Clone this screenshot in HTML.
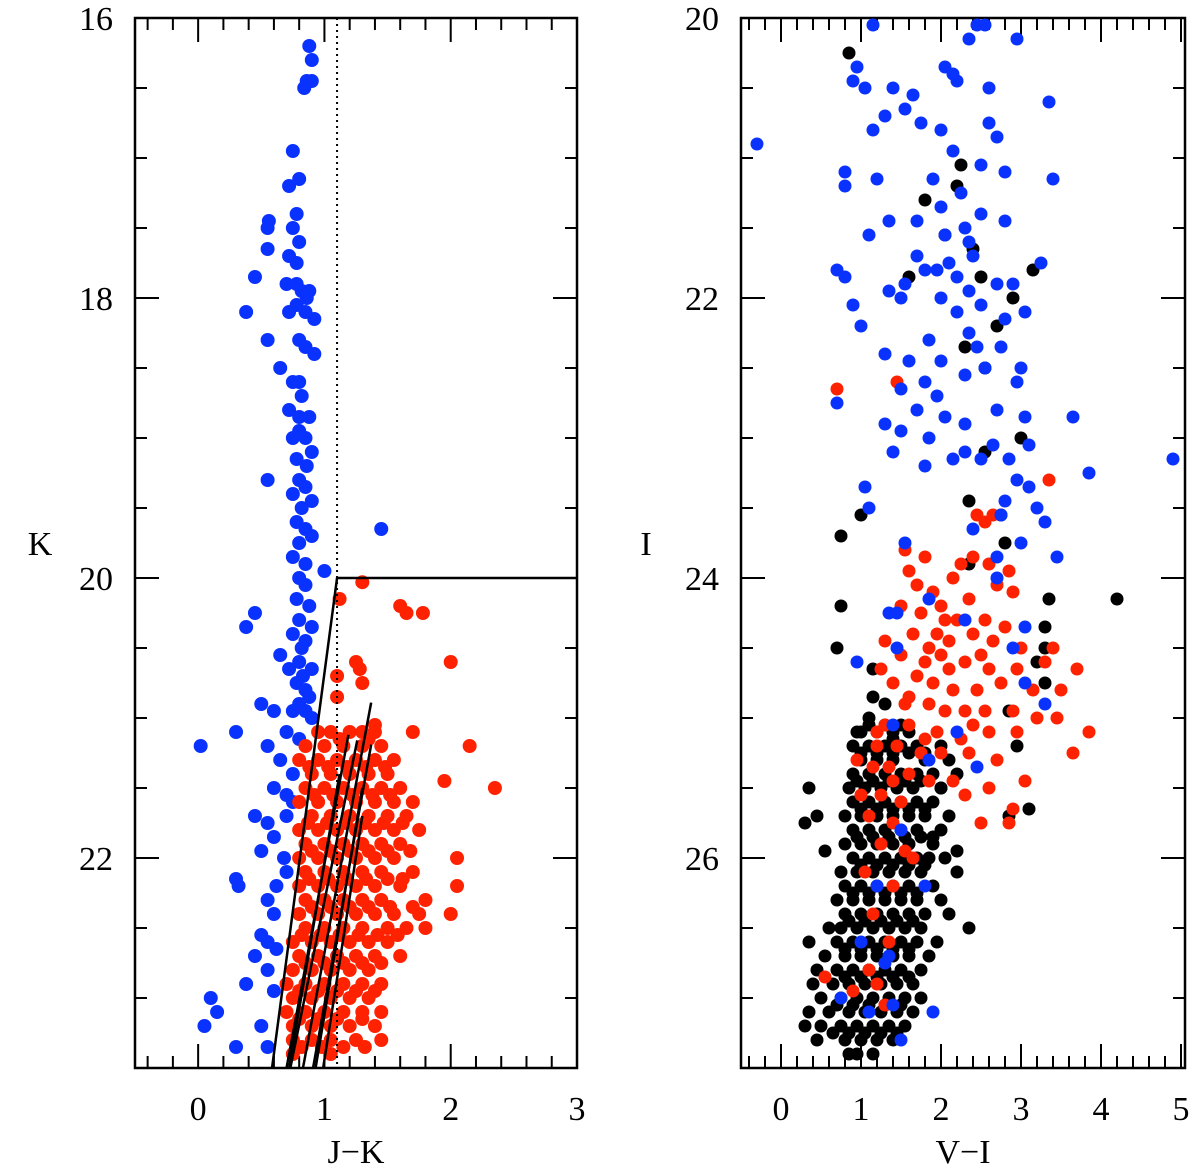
<!DOCTYPE html>
<html><head><meta charset="utf-8">
<style>
html,body{margin:0;padding:0;background:#fff;}
svg text{font-family:"Liberation Serif",serif;fill:#000;}
</style></head>
<body>
<svg id="fig" width="1200" height="1170" viewBox="0 0 1200 1170" xmlns="http://www.w3.org/2000/svg">
<g id="left"></g>
<g id="right"></g>
</svg>
<script>
// ---------- LEFT PANEL DATA (J-K, K) ----------
const leftXTicks = [0, 1, 2, 3];
const leftYTicks = [16, 18, 20, 22];
const leftBlue = [[0.88,16.2],[0.9,16.3],[0.86,16.45],[0.84,16.5],[0.9,16.45],[0.75,16.95],[0.72,17.2],[0.8,17.15],[0.78,17.4],[0.55,17.5],[0.56,17.45],[0.75,17.5],[0.8,17.6],[0.55,17.65],[0.72,17.7],[0.78,17.75],[0.45,17.85],[0.7,17.9],[0.78,17.9],[0.82,17.95],[0.86,18.0],[0.88,17.95],[0.78,18.05],[0.38,18.1],[0.72,18.1],[0.85,18.1],[0.92,18.15],[0.55,18.3],[0.8,18.3],[0.85,18.35],[0.92,18.4],[0.65,18.5],[0.75,18.6],[0.8,18.6],[0.82,18.7],[0.72,18.8],[0.8,18.85],[0.88,18.85],[0.75,19.0],[0.85,19.0],[0.9,19.1],[0.78,19.15],[0.55,19.3],[0.8,19.3],[0.85,19.35],[0.75,19.4],[0.9,19.45],[0.82,19.5],[0.78,19.6],[0.85,19.65],[0.9,19.7],[1.45,19.65],[0.8,19.75],[0.75,19.85],[0.85,19.9],[1.0,19.95],[0.8,20.0],[0.85,20.05],[0.78,20.15],[0.88,20.2],[0.45,20.25],[0.38,20.35],[0.8,20.3],[0.75,20.4],[0.85,20.45],[0.65,20.55],[0.8,20.6],[0.9,20.65],[0.78,20.75],[0.85,20.8],[0.88,20.85],[0.8,20.9],[0.75,20.95],[0.6,20.95],[0.5,20.9],[0.85,20.95],[0.9,21.0],[0.3,21.1],[0.02,21.2],[0.7,21.1],[0.8,21.15],[0.55,21.2],[0.65,21.3],[0.75,21.4],[0.6,21.5],[0.7,21.55],[0.75,21.6],[0.45,21.7],[0.55,21.75],[0.6,21.85],[0.5,21.95],[0.68,22.0],[0.7,22.1],[0.3,22.15],[0.32,22.2],[0.55,22.3],[0.6,22.4],[0.5,22.55],[0.55,22.6],[0.62,22.65],[0.45,22.7],[0.55,22.8],[0.38,22.9],[0.6,22.95],[0.1,23.0],[0.15,23.1],[0.05,23.2],[0.5,23.2],[0.3,23.35],[0.55,23.35],[0.82,20.5],[0.9,20.35],[0.72,20.65],[0.86,19.2],[0.8,18.95],[0.83,20.7],[0.7,21.7],[0.62,22.2]];
const leftRedScatter = [[1.3,20.03],[1.12,20.15],[1.6,20.2],[1.65,20.25],[1.78,20.25],[1.25,20.6],[1.28,20.65],[1.1,20.7],[1.3,20.75],[2.0,20.6],[1.1,20.85],[1.4,21.05],[1.7,21.1],[2.15,21.2],[2.35,21.5],[1.95,21.45]];
const leftRedRowsK = [21.1,21.2,21.3,21.4,21.5,21.6,21.7,21.8,21.9,22.0,22.1,22.2,22.3,22.4,22.5,22.6,22.7,22.8,22.9,23.0,23.1,23.2,23.3,23.4];
const leftRedRowsX = [[0.95,1.05,1.2,1.3,1.4],[0.85,1.0,1.15,1.3,1.45],[0.8,0.95,1.1,1.25,1.4,1.55],[0.9,1.05,1.2,1.35,1.5],[0.85,1.0,1.15,1.3,1.45,1.6],[0.8,0.95,1.1,1.25,1.4,1.55,1.7],[0.9,1.05,1.2,1.35,1.5,1.65],[0.8,0.95,1.1,1.25,1.4,1.55,1.75],[0.85,1.0,1.15,1.3,1.45,1.6],[0.8,0.95,1.1,1.25,1.4,1.55,2.05],[0.85,1.0,1.15,1.3,1.45,1.7],[0.8,0.95,1.1,1.25,1.4,1.6,2.05],[0.85,1.0,1.15,1.3,1.45,1.8],[0.8,0.95,1.1,1.25,1.4,1.55,1.75,2.0],[0.85,1.0,1.15,1.3,1.5,1.65,1.8],[0.75,0.9,1.05,1.2,1.35,1.5],[0.8,0.95,1.1,1.25,1.4,1.6],[0.75,0.9,1.05,1.2,1.35],[0.7,0.85,1.0,1.15,1.3,1.45],[0.75,0.9,1.05,1.2,1.35],[0.7,0.85,1.0,1.15,1.3,1.45],[0.75,0.9,1.05,1.2,1.4],[0.75,0.9,1.05,1.25,1.45],[0.75,1.05]];
const leftRedRowsK2 = [21.15,21.35,21.55,21.75,21.95,22.15,22.35,22.55,22.75,22.95,23.15,23.35];
const leftRedRowsX2 = [[1.12,1.35],[0.88,1.03,1.18,1.33,1.48],[0.92,1.07,1.22,1.38,1.52],[0.87,1.02,1.17,1.32,1.47,1.62],[0.9,1.05,1.2,1.35,1.5,1.68],[0.88,1.03,1.18,1.33,1.5,1.62],[0.9,1.05,1.2,1.35,1.52,1.7],[0.82,0.97,1.12,1.27,1.42,1.58],[0.85,1.0,1.15,1.3,1.45],[0.8,0.95,1.1,1.25,1.4],[0.8,0.95,1.1,1.3],[0.82,0.98,1.15,1.32]];
const boundary = [[0.585,23.5],[1.1,20.0],[3.0,20.0]];
const isoStart = [[0.70,23.5],[0.73,23.5],[0.72,23.5],[0.83,23.5],[0.91,23.5],[0.93,23.5],[0.99,23.5]];
const isoEnd = [[1.19,21.12],[1.26,21.16],[1.12,21.4],[1.37,20.89],[1.37,21.19],[1.3,21.5],[1.3,21.7]];
const dottedX = 1.1;

// ---------- RIGHT PANEL DATA (V-I, I) ----------
const rightXTicks = [0, 1, 2, 3, 4, 5];
const rightYTicks = [20, 22, 24, 26];
const rightBlue = [[2.45,20.05],[2.55,20.05],[1.15,20.05],[2.35,20.15],[2.95,20.15],[0.9,20.45],[1.05,20.5],[1.4,20.5],[1.65,20.55],[2.05,20.35],[2.15,20.4],[2.2,20.45],[2.6,20.5],[3.35,20.6],[0.95,20.35],[1.3,20.7],[1.55,20.65],[1.75,20.75],[2.0,20.8],[2.6,20.75],[2.7,20.85],[1.15,20.8],[-0.3,20.9],[2.15,20.95],[2.5,21.05],[2.8,21.1],[0.8,21.1],[0.8,21.2],[1.2,21.15],[1.9,21.15],[2.25,21.25],[3.4,21.15],[2.0,21.35],[1.7,21.45],[2.5,21.4],[2.8,21.45],[1.35,21.45],[1.1,21.55],[2.05,21.55],[2.3,21.5],[2.35,21.6],[2.4,21.7],[1.7,21.7],[2.1,21.75],[1.8,21.8],[2.2,21.85],[1.95,21.8],[0.7,21.8],[0.8,21.85],[1.35,21.95],[1.55,21.9],[2.35,21.95],[2.7,21.9],[2.9,21.9],[3.25,21.75],[0.9,22.05],[1.0,22.2],[1.5,22.0],[2.0,22.0],[2.2,22.1],[2.5,22.05],[2.8,22.15],[3.05,22.1],[2.35,22.25],[1.85,22.3],[2.45,22.35],[2.75,22.35],[1.3,22.4],[1.6,22.45],[2.0,22.45],[2.55,22.5],[3.0,22.5],[2.3,22.55],[1.8,22.6],[2.95,22.6],[1.5,22.65],[0.7,22.75],[1.95,22.7],[2.7,22.8],[1.3,22.9],[1.5,22.95],[1.7,22.8],[2.05,22.85],[2.3,22.9],[3.05,22.85],[3.65,22.85],[1.85,23.0],[2.3,23.1],[2.65,23.05],[2.85,23.15],[3.1,23.05],[3.85,23.25],[4.9,23.15],[1.4,23.1],[2.15,23.15],[2.5,23.15],[1.8,23.2],[2.95,23.3],[3.1,23.35],[1.05,23.35],[2.8,23.45],[3.2,23.5],[1.1,23.5],[2.75,23.55],[3.3,23.6],[2.4,23.65],[1.55,23.75],[3.0,23.75],[3.45,23.85],[2.7,23.85],[1.85,24.15],[2.7,24.0],[1.35,24.25],[1.45,24.25],[2.3,24.3],[3.05,24.35],[0.95,24.6],[1.45,24.5],[2.9,24.5],[3.3,24.9],[1.4,25.05],[2.2,25.1],[3.05,24.75],[2.45,25.35],[1.85,25.3]];
const rightRed = [[0.7,22.65],[1.45,22.6],[3.35,23.3],[2.45,23.55],[2.55,23.6],[2.65,23.55],[1.55,23.8],[1.6,23.95],[1.8,23.85],[2.25,23.9],[2.4,23.85],[2.6,23.9],[2.85,23.95],[1.7,24.05],[1.9,24.1],[2.15,24.0],[2.0,24.2],[2.35,24.15],[2.7,24.05],[2.9,24.1],[1.5,24.2],[1.75,24.25],[2.2,24.3],[2.55,24.3],[2.8,24.35],[1.3,24.45],[1.65,24.4],[1.95,24.4],[2.1,24.45],[2.4,24.4],[2.65,24.45],[3.0,24.5],[3.4,24.5],[1.5,24.55],[1.8,24.6],[2.0,24.55],[2.3,24.6],[2.6,24.65],[2.95,24.65],[3.3,24.6],[3.7,24.65],[1.25,24.65],[1.4,24.75],[1.7,24.7],[1.9,24.75],[2.15,24.8],[2.45,24.8],[2.75,24.75],[3.15,24.8],[3.5,24.8],[1.55,24.9],[1.85,24.9],[2.05,24.95],[2.3,24.95],[2.55,24.95],[2.9,24.95],[3.2,25.0],[3.45,25.0],[3.85,25.1],[1.3,25.05],[1.6,25.05],[1.95,25.1],[2.25,25.15],[2.6,25.1],[2.95,25.1],[1.2,25.2],[1.45,25.2],[1.75,25.25],[2.0,25.25],[2.35,25.25],[2.7,25.3],[3.65,25.25],[0.95,25.3],[1.15,25.35],[1.35,25.35],[1.6,25.4],[1.85,25.45],[2.15,25.45],[1.0,25.55],[1.25,25.55],[1.5,25.6],[2.3,25.55],[2.6,25.5],[3.05,25.45],[1.1,25.7],[1.4,25.75],[2.9,25.65],[2.5,25.75],[2.85,25.75],[1.25,25.9],[1.55,25.95],[1.05,26.1],[1.4,26.2],[1.65,26.0],[1.15,26.4],[1.35,26.6],[1.1,26.8],[0.55,26.85],[0.9,26.95],[1.3,27.05],[1.2,26.9],[1.85,24.5],[2.1,24.65],[1.6,24.85],[2.4,25.05],[1.8,25.15],[2.05,24.3],[2.5,24.55],[1.4,25.45],[1.2,25.1]];
const blackScatter = [[0.85,20.25],[2.25,21.05],[2.2,21.2],[1.8,21.3],[2.05,21.55],[2.4,21.65],[1.6,21.85],[2.5,21.85],[2.9,22.0],[3.15,21.8],[2.7,22.2],[2.3,22.35],[2.55,22.5],[3.0,23.0],[2.55,23.1],[2.35,23.45],[1.0,23.55],[0.75,23.7],[2.75,23.55],[2.8,23.75],[2.35,23.9],[3.35,24.15],[4.2,24.15],[0.75,24.2],[3.3,24.35],[3.3,24.5],[0.7,24.5],[3.2,24.6],[1.15,24.65],[3.3,24.75],[2.85,24.95],[1.15,24.85],[1.3,24.9],[1.1,25.0],[0.95,25.1],[2.95,25.2],[3.1,25.65],[2.85,25.7],[1.4,25.15],[2.0,25.5],[2.2,25.95],[1.9,25.85],[2.35,26.5],[0.3,25.75],[0.55,25.95],[0.35,26.6]];
const blackRowsI = [25.1,25.2,25.3,25.4,25.5,25.6,25.7,25.8,25.9,26.0,26.1,26.2,26.3,26.4,26.5,26.6,26.7,26.8,26.9,27.0,27.1,27.2,27.3,27.4];
const blackRowsX = [[1.0,1.2,1.4,1.6],[0.9,1.1,1.3,1.5,1.7,2.0],[1.0,1.2,1.4,1.8,2.1],[0.9,1.1,1.3,1.5,1.7,1.9,2.2],[0.35,0.85,1.05,1.25,1.45,1.65,2.0],[0.9,1.1,1.3,1.5,1.7,1.9],[0.45,0.8,1.0,1.2,1.4,1.6,1.8,2.1],[0.9,1.1,1.3,1.5,1.7,2.0],[0.8,1.0,1.2,1.4,1.6,1.9],[0.9,1.1,1.3,1.5,1.7,1.85,2.05],[0.75,0.95,1.15,1.35,1.55,1.75,2.2],[0.8,1.0,1.2,1.4,1.6,1.9],[0.7,0.9,1.1,1.3,1.5,1.7,2.0],[0.8,1.0,1.2,1.4,1.6,1.8,2.1],[0.6,0.75,0.95,1.15,1.35,1.55,1.75],[0.7,0.9,1.1,1.3,1.5,1.7,1.95],[0.55,0.8,1.0,1.2,1.4,1.6,1.85],[0.45,0.7,0.9,1.1,1.3,1.5,1.75],[0.4,0.65,0.85,1.05,1.25,1.45,1.65],[0.5,0.75,0.95,1.15,1.35,1.55,1.75],[0.35,0.6,0.85,1.05,1.25,1.45,1.65],[0.3,0.5,0.75,0.95,1.15,1.35,1.55],[0.45,0.8,1.0,1.2,1.4],[0.85,0.95,1.15]];
const blackRowsI2 = [25.05,25.25,25.45,25.65,25.85,26.05,26.25,26.45,26.65,26.85,27.05,27.25];
const blackRowsX2 = [[1.1,1.3,1.5],[1.0,1.2,1.4,1.6,1.8],[0.95,1.15,1.35,1.55,1.75],[1.0,1.2,1.4,1.6,1.8],[0.95,1.15,1.35,1.55,1.75],[1.0,1.2,1.4,1.6,1.8],[0.9,1.1,1.3,1.5,1.7],[0.85,1.05,1.25,1.45,1.65],[0.8,1.0,1.2,1.4,1.6],[0.8,1.0,1.2,1.4,1.6],[0.7,0.9,1.1,1.3,1.5],[0.65,0.85,1.05,1.25,1.45]];
const rightBlueLow = [[1.5,25.8],[1.2,26.2],[1.8,26.2],[1.0,26.6],[1.9,27.1],[0.75,27.0],[1.1,27.1],[1.4,27.05],[1.5,27.3],[1.35,26.7],[1.3,26.75]];

const NS = "http://www.w3.org/2000/svg";
const BLUE = "#0a32ff", RED = "#ff2200", BLACK = "#000";
function mk(tag, attrs, parent){ const e=document.createElementNS(NS,tag); for(const k in attrs) e.setAttribute(k,attrs[k]); parent.appendChild(e); return e; }

function panel(g, cfg){
  const {x0,x1,y0,y1,xmin,xmax,ymin,ymax} = cfg;
  const sx = v => x0 + (v - xmin) / (xmax - xmin) * (x1 - x0);
  const sy = v => y0 + (v - ymin) / (ymax - ymin) * (y1 - y0);
  cfg.sx = sx; cfg.sy = sy;
  const frame = mk("rect",{x:x0,y:y0,width:x1-x0,height:y1-y0,fill:"none",stroke:"#000","stroke-width":2.5},g);
  
  
  for(let i=Math.ceil(xmin*5); i<=Math.floor(xmax*5); i++){
    const v=i/5, major = (i%5===0), L = major?24:12, X=sx(v);
    const t1 = mk("line",{x1:X,y1:y1,x2:X,y2:y1-L,stroke:"#000","stroke-width":2},g);
    
    
    const t2 = mk("line",{x1:X,y1:y0,x2:X,y2:y0+L,stroke:"#000","stroke-width":2},g);
    
    
  }
  for(let i=Math.ceil(ymin*2); i<=Math.floor(ymax*2); i++){
    const v=i/2, major=(i%4===0), L=major?24:12, Y=sy(v);
    const t1 = mk("line",{x1:x0,y1:Y,x2:x0+L,y2:Y,stroke:"#000","stroke-width":2},g);
    
    
    const t2 = mk("line",{x1:x1,y1:Y,x2:x1-L,y2:Y,stroke:"#000","stroke-width":2},g);
    
    
  }
  cfg.xticks.forEach(v=>{
    const t = mk("text",{x:sx(v),y:y1+52,"font-size":34,"text-anchor":"middle"},g);
    t.textContent = v;
    
    
  });
  cfg.yticks.forEach(v=>{
    const t = mk("text",{x:x0-22,y:sy(v)+12,"font-size":34,"text-anchor":"end"},g);
    t.textContent = v;
    
    
  });
  const xl = mk("text",{x:(x0+x1)/2,y:y1+95,"font-size":34,"text-anchor":"middle"},g);
  xl.textContent = cfg.xlabel;
  
  
  const yl = mk("text",{x:x0-95,y:(y0+y1)/2+12,"font-size":34,"text-anchor":"middle"},g);
  yl.textContent = cfg.ylabel;
  
  
}
function dots(g, cfg, pts, color, r, name){
  const grp = mk("g",{},g);
  
  
  pts.forEach(p=>{
    const c = mk("circle",{cx:cfg.sx(p[0]),cy:cfg.sy(p[1]),r:r,fill:color},grp);
    
    
  });
}
function rowsToPts(rowsY, rowsX){ const out=[]; rowsY.forEach((y,i)=>rowsX[i].forEach(x=>out.push([x,y]))); return out; }

// LEFT
const gL = document.getElementById("left");
const L = {x0:135,x1:577,y0:18,y1:1068,xmin:-0.5,xmax:3,ymin:16,ymax:23.5,xticks:leftXTicks,yticks:leftYTicks,xlabel:"J\u2212K",ylabel:"K"};
panel(gL, L);
dots(gL, L, leftBlue, BLUE, 7, "blue-star");
dots(gL, L, leftRedScatter.concat(rowsToPts(leftRedRowsK, leftRedRowsX), rowsToPts(leftRedRowsK2, leftRedRowsX2)), RED, 7, "red-star");
const dl = mk("line",{x1:L.sx(dottedX),y1:L.y0,x2:L.sx(dottedX),y2:L.y1,stroke:"#000","stroke-width":2,"stroke-dasharray":"2,4"},gL);


const bd = mk("polyline",{points:boundary.map(p=>L.sx(p[0])+","+L.sy(p[1])).join(" "),fill:"none",stroke:"#000","stroke-width":2.5},gL);


isoStart.forEach((s,i)=>{
  const e = isoEnd[i];
  const ln = mk("line",{x1:L.sx(s[0]),y1:L.sy(s[1]),x2:L.sx(e[0]),y2:L.sy(e[1]),stroke:"#000","stroke-width":2.5},gL);
  
  
});

// RIGHT
const gR = document.getElementById("right");
const R = {x0:741,x1:1185,y0:18,y1:1068,xmin:-0.5,xmax:5.05,ymin:20,ymax:27.5,xticks:rightXTicks,yticks:rightYTicks,xlabel:"V\u2212I",ylabel:"I"};
panel(gR, R);
dots(gR, R, blackScatter.concat(rowsToPts(blackRowsI, blackRowsX), rowsToPts(blackRowsI2, blackRowsX2)), BLACK, 6.5, "black-star");
dots(gR, R, rightRed, RED, 6.5, "red-star");
dots(gR, R, rightBlue.concat(rightBlueLow), BLUE, 6.5, "blue-star");
</script>
</body></html>
